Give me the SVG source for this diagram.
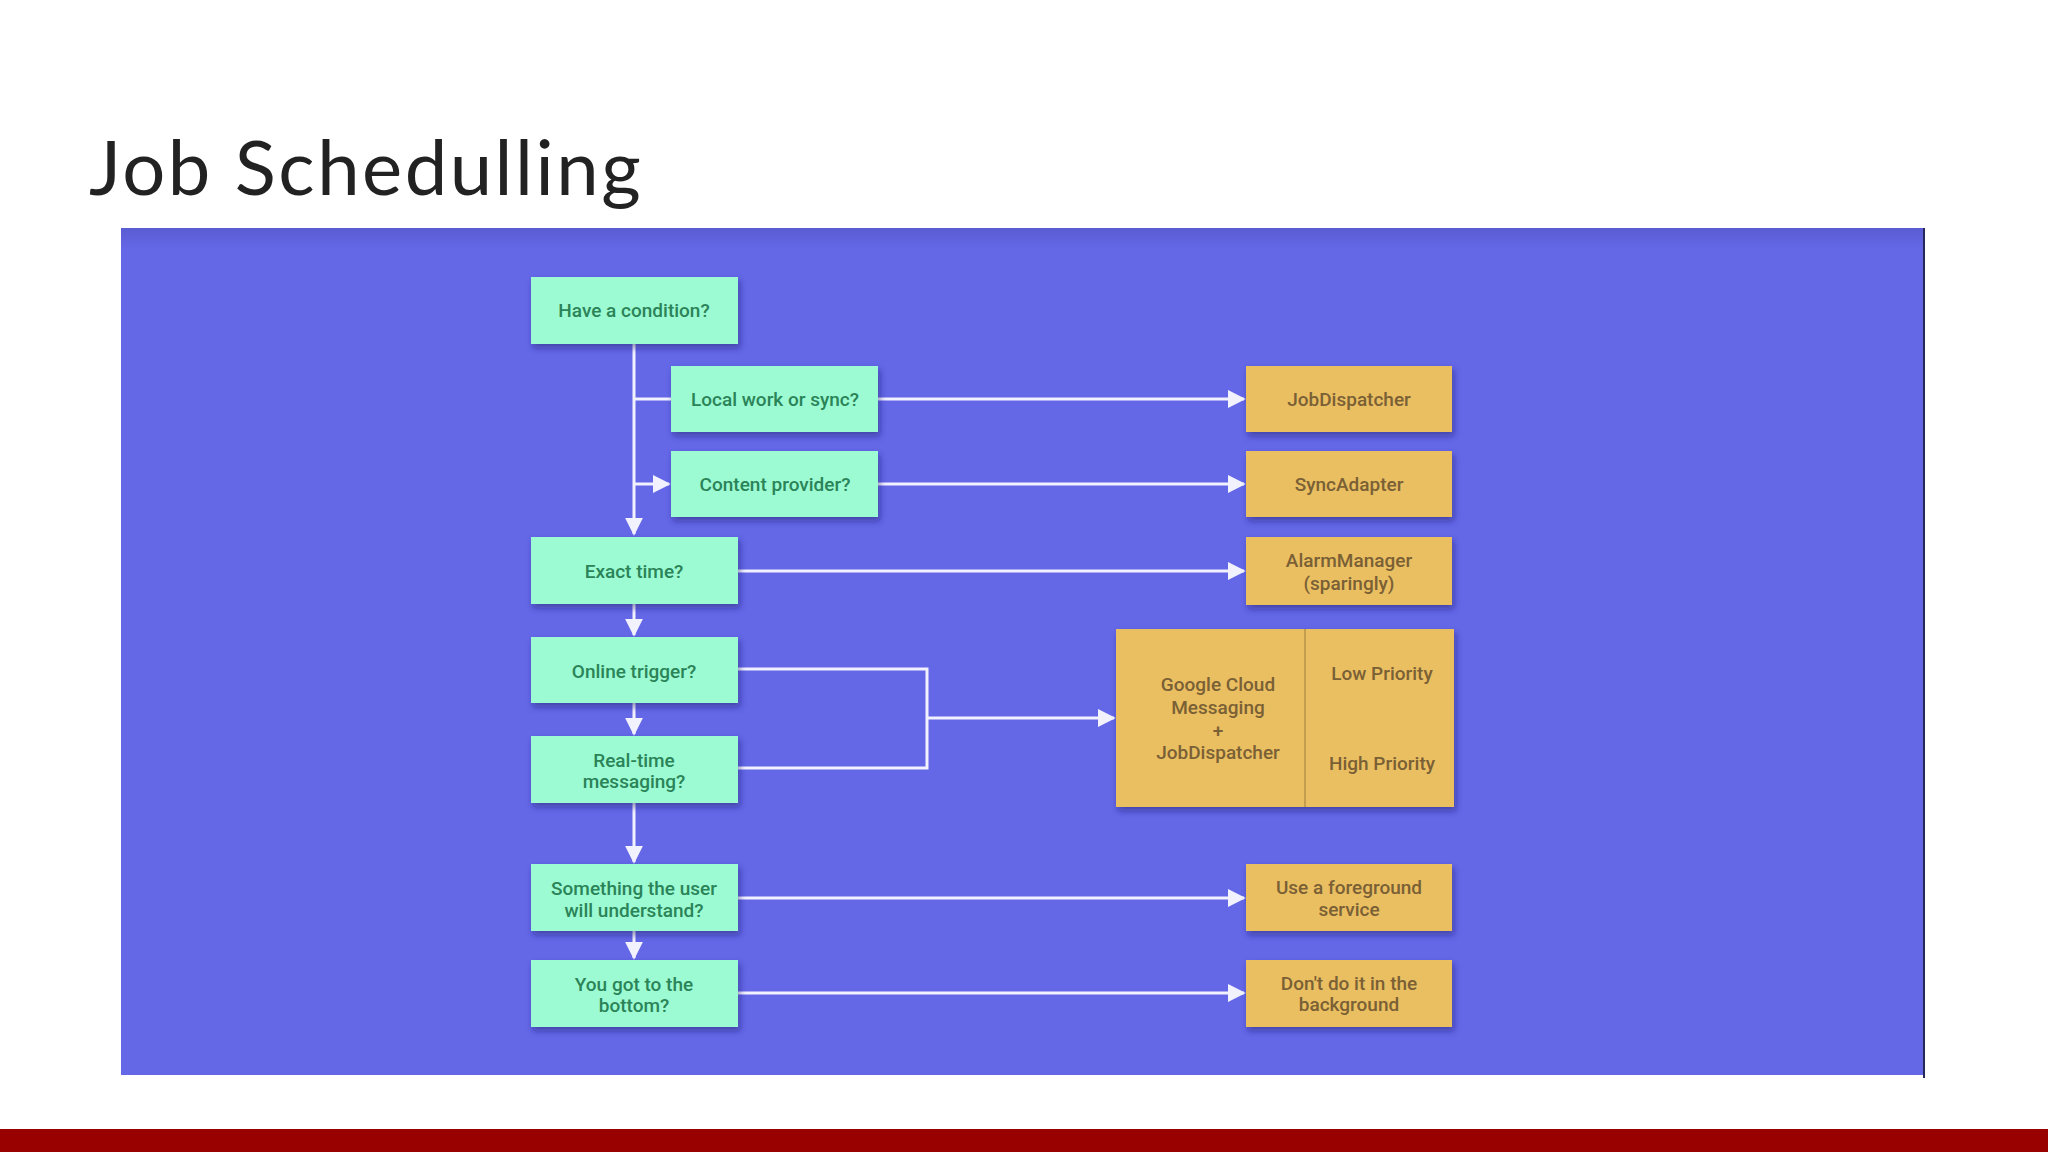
<svg xmlns="http://www.w3.org/2000/svg" width="2048" height="1152" viewBox="0 0 2048 1152">
  <defs>
    <linearGradient id="panelTop" x1="0" y1="0" x2="0" y2="1">
      <stop offset="0" stop-color="#5a5cd2"/>
      <stop offset="1" stop-color="#6467e6"/>
    </linearGradient>
    <filter id="shadow" x="-10%" y="-10%" width="125%" height="140%">
      <feDropShadow dx="2" dy="4" stdDeviation="3" flood-color="#1a1a60" flood-opacity="0.45"/>
    </filter>
    <marker id="arrow" viewBox="0 0 10 10" refX="9" refY="5" markerWidth="6" markerHeight="6" markerUnits="strokeWidth" orient="auto">
      <path d="M0,0 L10,5 L0,10 z" fill="#f2f2ff"/>
    </marker>
  </defs>
  <style>
    .green { fill: #9cfbd2; filter: url(#shadow); }
    .orange { fill: #eabf62; filter: url(#shadow); }
    .gt { font-family: Roboto, "Liberation Sans", sans-serif; font-size: 19px; font-weight: 500; fill: #2b8358; text-anchor: middle; }
    .ot { font-family: Roboto, "Liberation Sans", sans-serif; font-size: 19px; font-weight: 500; fill: #7a6035; text-anchor: middle; }
    .conn { stroke: #f2f2ff; stroke-width: 3; fill: none; }
  </style>

  <rect x="0" y="0" width="2048" height="1152" fill="#ffffff"/>
  <text x="89" y="195" font-family="Lato, 'Open Sans', sans-serif" font-size="76" letter-spacing="2.5" fill="#222222">Job Schedulling</text>

  <!-- panel -->
  <rect x="121" y="228" width="1804" height="847" fill="#6467e6"/>
  <rect x="121" y="228" width="1804" height="20" fill="url(#panelTop)"/>
  <rect x="1923" y="228" width="2" height="850" fill="#26285a"/>
  <rect x="0" y="1129" width="2048" height="23" fill="#990000"/>

  <!-- connectors -->
  <g id="connectors">
    <line class="conn" x1="634" y1="344" x2="634" y2="534" marker-end="url(#arrow)"/>
    <line class="conn" x1="634" y1="399" x2="671" y2="399"/>
    <line class="conn" x1="634" y1="484" x2="669" y2="484" marker-end="url(#arrow)"/>
    <line class="conn" x1="878" y1="399" x2="1244" y2="399" marker-end="url(#arrow)"/>
    <line class="conn" x1="878" y1="484" x2="1244" y2="484" marker-end="url(#arrow)"/>
    <line class="conn" x1="738" y1="571" x2="1244" y2="571" marker-end="url(#arrow)"/>
    <line class="conn" x1="634" y1="604" x2="634" y2="635" marker-end="url(#arrow)"/>
    <line class="conn" x1="634" y1="703" x2="634" y2="734" marker-end="url(#arrow)"/>
    <polyline class="conn" points="738,669 927,669 927,768 738,768"/>
    <line class="conn" x1="927" y1="718" x2="1114" y2="718" marker-end="url(#arrow)"/>
    <line class="conn" x1="634" y1="803" x2="634" y2="862" marker-end="url(#arrow)"/>
    <line class="conn" x1="738" y1="898" x2="1244" y2="898" marker-end="url(#arrow)"/>
    <line class="conn" x1="634" y1="931" x2="634" y2="958" marker-end="url(#arrow)"/>
    <line class="conn" x1="738" y1="993" x2="1244" y2="993" marker-end="url(#arrow)"/>
  </g>

  <!-- question nodes -->
  <g id="have-condition">
    <rect class="green" x="531" y="277" width="207" height="67"/>
    <text class="gt" x="634" y="317">Have a condition?</text>
  </g>
  <g id="local-work">
    <rect class="green" x="671" y="366" width="207" height="66"/>
    <text class="gt" x="775" y="406">Local work or sync?</text>
  </g>
  <g id="content-provider">
    <rect class="green" x="671" y="451" width="207" height="66"/>
    <text class="gt" x="775" y="491">Content provider?</text>
  </g>
  <g id="exact-time">
    <rect class="green" x="531" y="537" width="207" height="67"/>
    <text class="gt" x="634" y="578">Exact time?</text>
  </g>
  <g id="online-trigger">
    <rect class="green" x="531" y="637" width="207" height="66"/>
    <text class="gt" x="634" y="678">Online trigger?</text>
  </g>
  <g id="real-time">
    <rect class="green" x="531" y="736" width="207" height="67"/>
    <text class="gt" x="634" y="767">Real-time</text>
    <text class="gt" x="634" y="788">messaging?</text>
  </g>
  <g id="something-user">
    <rect class="green" x="531" y="864" width="207" height="67"/>
    <text class="gt" x="634" y="895">Something the user</text>
    <text class="gt" x="634" y="917">will understand?</text>
  </g>
  <g id="bottom">
    <rect class="green" x="531" y="960" width="207" height="67"/>
    <text class="gt" x="634" y="991">You got to the</text>
    <text class="gt" x="634" y="1012">bottom?</text>
  </g>

  <!-- answer nodes -->
  <g id="jobdispatcher">
    <rect class="orange" x="1246" y="366" width="206" height="66"/>
    <text class="ot" x="1349" y="406">JobDispatcher</text>
  </g>
  <g id="syncadapter">
    <rect class="orange" x="1246" y="451" width="206" height="66"/>
    <text class="ot" x="1349" y="491">SyncAdapter</text>
  </g>
  <g id="alarmmanager">
    <rect class="orange" x="1246" y="537" width="206" height="68"/>
    <text class="ot" x="1349" y="567">AlarmManager</text>
    <text class="ot" x="1349" y="590">(sparingly)</text>
  </g>
  <g id="gcm">
    <rect class="orange" x="1116" y="629" width="338" height="178"/>
    <line x1="1305" y1="629" x2="1305" y2="807" stroke="#b89248" stroke-width="1.5"/>
    <text class="ot" x="1218" y="691">Google Cloud</text>
    <text class="ot" x="1218" y="714">Messaging</text>
    <text class="ot" x="1218" y="737">+</text>
    <text class="ot" x="1218" y="759">JobDispatcher</text>
    <text class="ot" x="1382" y="680">Low Priority</text>
    <text class="ot" x="1382" y="770">High Priority</text>
  </g>
  <g id="foreground-service">
    <rect class="orange" x="1246" y="864" width="206" height="67"/>
    <text class="ot" x="1349" y="894">Use a foreground</text>
    <text class="ot" x="1349" y="916">service</text>
  </g>
  <g id="dont-do-it">
    <rect class="orange" x="1246" y="960" width="206" height="67"/>
    <text class="ot" x="1349" y="990">Don't do it in the</text>
    <text class="ot" x="1349" y="1011">background</text>
  </g>
</svg>
